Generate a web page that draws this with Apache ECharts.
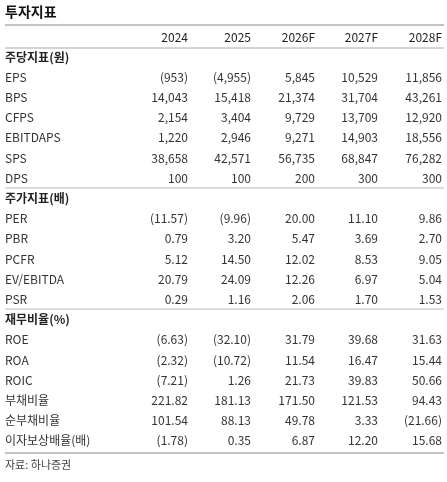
<!DOCTYPE html><html><head><meta charset="utf-8"><script src="https://cdn.jsdelivr.net/npm/echarts@6/dist/echarts.min.js"></script>
<style>html,body{margin:0;padding:0;background:#fff}#c{width:447px;height:482px}</style></head><body><div id="c"></div><script>
const title='투자지표';
const years=['2024','2025','2026F','2027F','2028F'];
const sec1='주당지표(원)';
const labels1=['EPS','BPS','CFPS','EBITDAPS','SPS','DPS'];
const vals1=[['(953)','(4,955)','5,845','10,529','11,856'],['14,043','15,418','21,374','31,704','43,261'],['2,154','3,404','9,729','13,709','12,920'],['1,220','2,946','9,271','14,903','18,556'],['38,658','42,571','56,735','68,847','76,282'],['100','100','200','300','300']];
const sec2='주가지표(배)';
const labels2=['PER','PBR','PCFR','EV/EBITDA','PSR'];
const vals2=[['(11.57)','(9.96)','20.00','11.10','9.86'],['0.79','3.20','5.47','3.69','2.70'],['5.12','14.50','12.02','8.53','9.05'],['20.79','24.09','12.26','6.97','5.04'],['0.29','1.16','2.06','1.70','1.53']];
const sec3='재무비율(%)';
const labels3=['ROE','ROA','ROIC','부채비율','순부채비율','이자보상배율(배)'];
const vals3=[['(6.63)','(32.10)','31.79','39.68','31.63'],['(2.32)','(10.72)','11.54','16.47','15.44'],['(7.21)','1.26','21.73','39.83','50.66'],['221.82','181.13','171.50','121.53','94.43'],['101.54','88.13','49.78','3.33','(21.66)'],['(1.78)','0.35','6.87','12.20','15.68']];
const source='자료: 하나증권';

const F='"Noto Sans CJK KR","Noto Sans",sans-serif';
const colX=[188,251,315,378,442], L=5, R=444, rowH=20.2;
const els=[];
function txt(x,y,s,o){els.push({type:'text',x:x,y:y,style:Object.assign({text:s,font:'12px '+F,fill:'#222',verticalAlign:'middle'},o||{})});}
function line(y,c){els.push({type:'line',shape:{x1:L,y1:y,x2:R,y2:y},style:{stroke:c||'#999',lineWidth:1}});}
txt(L,12,title,{font:'bold 14px '+F,fill:'#111'});
line(25,'#888');
years.forEach((yv,i)=>txt(colX[i],37,yv,{align:'right'}));
line(48,'#aaa');
let y=57;
[[sec1,labels1,vals1],[sec2,labels2,vals2],[sec3,labels3,vals3]].forEach(([s,lab,vals],k)=>{
  if(k>0){line(y-10.5,'#bbb');}
  txt(L,y,s,{font:'bold 12px '+F});
  y+=rowH;
  lab.forEach((l,r)=>{txt(L,y,l,{fill:'#333'});vals[r].forEach((v,i)=>txt(colX[i],y,v,{align:'right',fill:'#333'}));y+=rowH;});
});
line(y-8,'#888');
txt(L,y+4,source,{font:'11px '+F,fill:'#444'});
const ch=echarts.init(document.getElementById('c'));
ch.setOption({animation:false,graphic:{elements:els}});
</script></body></html>
